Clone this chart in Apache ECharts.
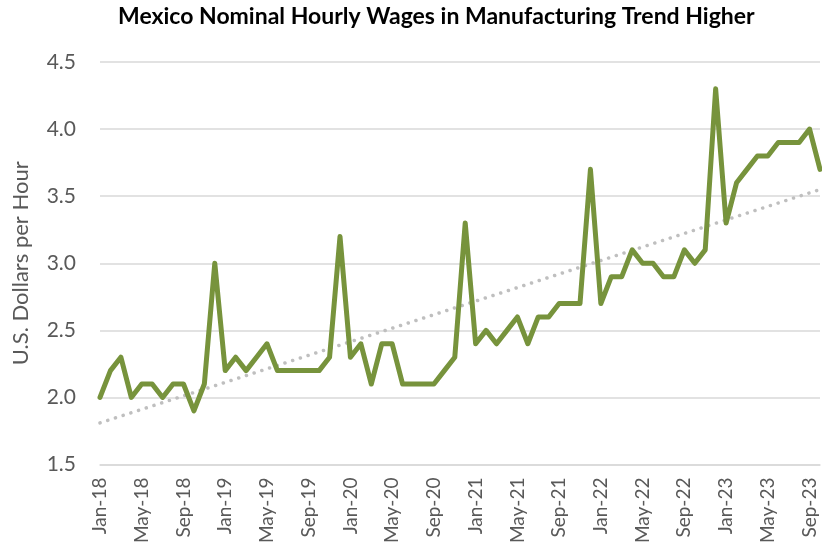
<!DOCTYPE html>
<html>
<head>
<meta charset="utf-8">
<script src="https://cdn.jsdelivr.net/npm/echarts@6/dist/echarts.min.js"></script>
<style>
  html, body { margin: 0; padding: 0; background: #fff; }
  #chart { width: 822px; height: 546px; }
</style>
</head>
<body>
<div id="chart"></div>
<script>
// month labels, Jan-18 .. Oct-23
var monthNames = ["Jan", "Feb", "Mar", "Apr", "May", "Jun", "Jul", "Aug", "Sep", "Oct", "Nov", "Dec"];
var years = ["18", "19", "20", "21", "22", "23"];

// wages, USD per hour
var wages2018 = [2.0, 2.2, 2.3, 2.0, 2.1, 2.1, 2.0, 2.1, 2.1, 1.9, 2.1, 3.0];
var wages2019 = [2.2, 2.3, 2.2, 2.3, 2.4, 2.2, 2.2, 2.2, 2.2, 2.2, 2.3, 3.2];
var wages2020 = [2.3, 2.4, 2.1, 2.4, 2.4, 2.1, 2.1, 2.1, 2.1, 2.2, 2.3, 3.3];
var wages2021 = [2.4, 2.5, 2.4, 2.5, 2.6, 2.4, 2.6, 2.6, 2.7, 2.7, 2.7, 3.7];
var wages2022 = [2.7, 2.9, 2.9, 3.1, 3.0, 3.0, 2.9, 2.9, 3.1, 3.0, 3.1, 4.3];
var wages2023 = [3.3, 3.6, 3.7, 3.8, 3.8, 3.9, 3.9, 3.9, 4.0, 3.7];

// linear trend, start and end values
var trendEnds = [1.81, 3.55];

var wages = [].concat(wages2018, wages2019, wages2020, wages2021, wages2022, wages2023);
var categories = [];
for (var y = 0; y < years.length; y++) {
  for (var m = 0; m < 12 && categories.length < wages.length; m++) {
    categories.push(monthNames[m] + "-" + years[y]);
  }
}

var chart = echarts.init(document.getElementById("chart"));
var font = "Lato, 'Open Sans', sans-serif";

var option = {
  animation: false,
  backgroundColor: "#fff",
  graphic: [
    {
      type: "text",
      left: 118,
      top: 5,
      style: {
        text: "Mexico Nominal Hourly Wages in Manufacturing Trend Higher",
        font: "bold 23px " + font,
        fill: "#000"
      }
    }
  ],
  grid: {
    left: 100,
    right: 2,
    top: 62,
    bottom: 80
  },
  xAxis: {
    type: "category",
    boundaryGap: false,
    data: categories,
    axisTick: { show: false },
    axisLine: { lineStyle: { color: "#d9d9d9", width: 1.5 } },
    axisLabel: {
      interval: 3,
      rotate: 90,
      margin: 13,
      color: "#595959",
      fontSize: 19,
      fontFamily: font
    }
  },
  yAxis: {
    type: "value",
    min: 1.5,
    max: 4.5,
    interval: 0.5,
    name: "U.S. Dollars per Hour",
    nameLocation: "middle",
    nameGap: 68,
    nameTextStyle: { color: "#595959", fontSize: 22, fontFamily: font },
    axisLine: { show: false },
    axisTick: { show: false },
    axisLabel: {
      color: "#595959",
      fontSize: 21,
      fontFamily: font,
      margin: 24,
      formatter: function (v) { return v.toFixed(1); }
    },
    splitLine: { lineStyle: { color: "#d9d9d9", width: 1.5 } }
  },
  series: [
    {
      name: "Trend",
      type: "line",
      data: [[0, trendEnds[0]], [wages.length - 1, trendEnds[1]]],
      symbol: "none",
      lineStyle: { color: "#bfbfbf", width: 3.5, type: [0.1, 8], cap: "round" },
      z: 1
    },
    {
      name: "Wages",
      type: "line",
      data: wages,
      symbol: "none",
      lineStyle: { color: "#77933c", width: 5, join: "round", cap: "round" },
      z: 2
    }
  ]
};

chart.setOption(option);
</script>
</body>
</html>
